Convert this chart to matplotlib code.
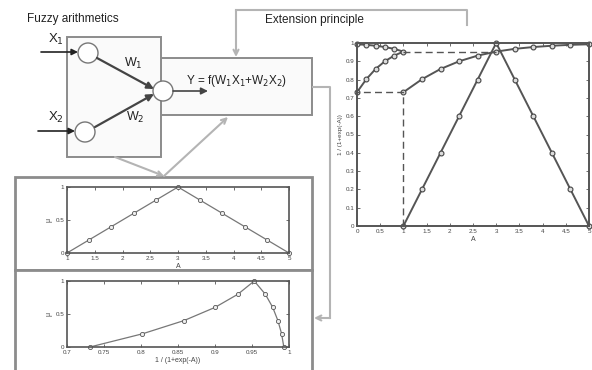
import matplotlib
matplotlib.use("Agg")
import matplotlib.pyplot as plt
from matplotlib.patches import Rectangle, Circle, FancyArrowPatch

plt.rcParams['font.family'] = ['Liberation Sans', 'DejaVu Sans']

# ---- data ----
tri_A = [1, 1.4, 1.8, 2.2, 2.6, 3, 3.4, 3.8, 4.2, 4.6, 5]
tri_mu = [0, 0.2, 0.4, 0.6, 0.8, 1, 0.8, 0.6, 0.4, 0.2, 0]
sig_y = [0.731, 0.802, 0.858, 0.900, 0.931, 0.953, 0.968, 0.978, 0.985, 0.990, 0.993]
dash1_x = [1, 1, 0]
dash1_y = [0, 0.731, 0.731]
dash2_x = [1, 3]
dash2_y = [0.953, 0.953]

right_xticks = [0, 0.5, 1, 1.5, 2, 2.5, 3, 3.5, 4, 4.5, 5]
right_xlabels = ['0', '0.5', '1', '1.5', '2', '2.5', '3', '3.5', '4', '4.5', '5']
right_yticks = [0, 0.1, 0.2, 0.3, 0.4, 0.5, 0.6, 0.7, 0.8, 0.9, 1]
right_ylabels = ['0', '0.1', '0.2', '0.3', '0.4', '0.5', '0.6', '0.7', '0.8', '0.9', '1']
mid_xticks = [1, 1.5, 2, 2.5, 3, 3.5, 4, 4.5, 5]
mid_xlabels = ['1', '1.5', '2', '2.5', '3', '3.5', '4', '4.5', '5']
mu_ticks = [0, 0.5, 1]
mu_labels = ['0', '0.5', '1']
bot_xticks = [0.7, 0.75, 0.8, 0.85, 0.9, 0.95, 1]
bot_xlabels = ['0.7', '0.75', '0.8', '0.85', '0.9', '0.95', '1']

W, H = 592, 370
fig = plt.figure(figsize=(W / 100, H / 100), dpi=100)
fig.patch.set_facecolor('white')

# ---- diagram layer ----
d = fig.add_axes([0, 0, 1, 1])
d.set_xlim(0, W)
d.set_ylim(H, 0)
d.axis('off')

BOX = '#8c8c8c'
CON = '#b4b4b4'
DARK = '#444444'

# network boxes
d.add_patch(Rectangle((161, 58), 151, 57, fc='#fafafa', ec=BOX, lw=1.4, zorder=1))
d.add_patch(Rectangle((67, 37), 94, 120, fc='#fafafa', ec=BOX, lw=1.4, zorder=2))
# lower panels
d.add_patch(Rectangle((15, 177), 297, 93, fc='white', ec=BOX, lw=2, zorder=1))
d.add_patch(Rectangle((15, 270), 297, 102, fc='white', ec=BOX, lw=2, zorder=1))

# neurons
for cx, cy in [(88, 53), (85, 132), (163, 91)]:
    d.add_patch(Circle((cx, cy), 10, fc='white', ec='#777777', lw=1.0, zorder=4))

def arrow(p0, p1, color, lw, style, ms, z=3):
    a = FancyArrowPatch(p0, p1, arrowstyle=style, mutation_scale=ms,
                        color=color, lw=lw, zorder=z, shrinkA=0, shrinkB=0)
    d.add_patch(a)

# inputs
arrow((41, 52), (78, 52), '#222222', 1.2, '-|>', 9)
arrow((38, 131), (75, 131), '#222222', 1.2, '-|>', 9)
# weights
arrow((97, 58), (154, 89), DARK, 1.6, '-|>', 10, 5)
arrow((95, 127), (154, 94), DARK, 1.6, '-|>', 10, 5)
# output
arrow((173, 91), (208, 91), DARK, 1.2, '-|>', 10, 5)

# grey connectors
d.plot([467, 467, 236], [25, 10, 10], color=CON, lw=1.5, zorder=2)
arrow((236, 10), (236, 57), CON, 1.5, '->', 9)
d.plot([313, 330, 330], [87, 87, 318], color=CON, lw=1.5, zorder=2)
arrow((330, 318), (314, 318), CON, 1.5, '->', 9)
arrow((115, 157), (164, 176), CON, 1.5, '->', 8)
arrow((164, 176), (228, 117), CON, 1.5, '->', 9)

# texts
d.text(27, 19, 'Fuzzy arithmetics', fontsize=8.5, va='center', ha='left', color='#222222')
d.text(265, 20, 'Extension principle', fontsize=8.5, va='center', ha='left', color='#222222')
d.text(56, 39, r'X$_1$', fontsize=9.5, va='center', ha='center', color='#222222')
d.text(56, 117, r'X$_2$', fontsize=9.5, va='center', ha='center', color='#222222')
d.text(133, 63, r'W$_1$', fontsize=9, va='center', ha='center', color='#222222')
d.text(135, 117, r'W$_2$', fontsize=9, va='center', ha='center', color='#222222')
d.text(237, 81, r'Y = f(W$_1$X$_1$+W$_2$X$_2$)', fontsize=8.5, va='center', ha='center',
       color='#222222')

def pax(x0, y0, x1, y1):
    return fig.add_axes([x0 / W, 1 - y1 / H, (x1 - x0) / W, (y1 - y0) / H])

def style(ax, lw, fs):
    for s in ax.spines.values():
        s.set_linewidth(lw)
        s.set_color('#555555')
    ax.tick_params(direction='in', top=True, right=True, length=2, width=0.6,
                   labelsize=fs, colors='#555555', labelcolor='#444444', pad=2)

# ---- right plot ----
r = pax(357, 43, 589, 226)
rk = dict(color='#555555', lw=1.4, ms=3.5, mfc='#dddddd', mec='#444444', mew=0.8, clip_on=False)
r.plot(tri_A, tri_mu, '-o', **rk)
r.plot(tri_A, sig_y, '-o', **rk)
r.plot(tri_mu, sig_y, '-o', **rk)
r.plot(dash1_x, dash1_y, '--', color='#555555', lw=1.0, dashes=(5, 3))
r.plot(dash2_x, dash2_y, '--', color='#555555', lw=1.0, dashes=(5, 3))
r.set_xlim(0, 5)
r.set_ylim(0, 1)
r.set_xticks(right_xticks)
r.set_xticklabels(right_xlabels)
r.set_yticks(right_yticks)
r.set_yticklabels(right_ylabels)
style(r, 1.4, 4.5)
r.set_xlabel('A', fontsize=5, labelpad=1.5, color='#444444')
r.set_ylabel('1 / (1+exp(-A))', fontsize=4.5, labelpad=2, color='#444444')

sk = dict(color='#777777', lw=0.9, ms=3, mfc='#eeeeee', mec='#555555', mew=0.6, clip_on=False)

# ---- middle plot ----
m = pax(67, 187, 289, 253)
m.plot(tri_A, tri_mu, '-o', **sk)
m.set_xlim(1, 5)
m.set_ylim(0, 1)
m.set_xticks(mid_xticks)
m.set_xticklabels(mid_xlabels)
m.set_yticks(mu_ticks)
m.set_yticklabels(mu_labels)
style(m, 1.2, 4.5)
m.set_xlabel('A', fontsize=5, labelpad=1.5, color='#444444')
m.set_ylabel('μ', fontsize=5, labelpad=2, color='#444444')

# ---- bottom plot ----
b = pax(67, 281, 289, 347)
b.plot(sig_y, tri_mu, '-o', **sk)
b.set_xlim(0.7, 1)
b.set_ylim(0, 1)
b.set_xticks(bot_xticks)
b.set_xticklabels(bot_xlabels)
b.set_yticks(mu_ticks)
b.set_yticklabels(mu_labels)
style(b, 1.2, 4.5)
b.set_xlabel('1 / (1+exp(-A))', fontsize=5, labelpad=1.5, color='#444444')
b.set_ylabel('μ', fontsize=5, labelpad=2, color='#444444')

fig.savefig('out.png', dpi=100, facecolor='white')
